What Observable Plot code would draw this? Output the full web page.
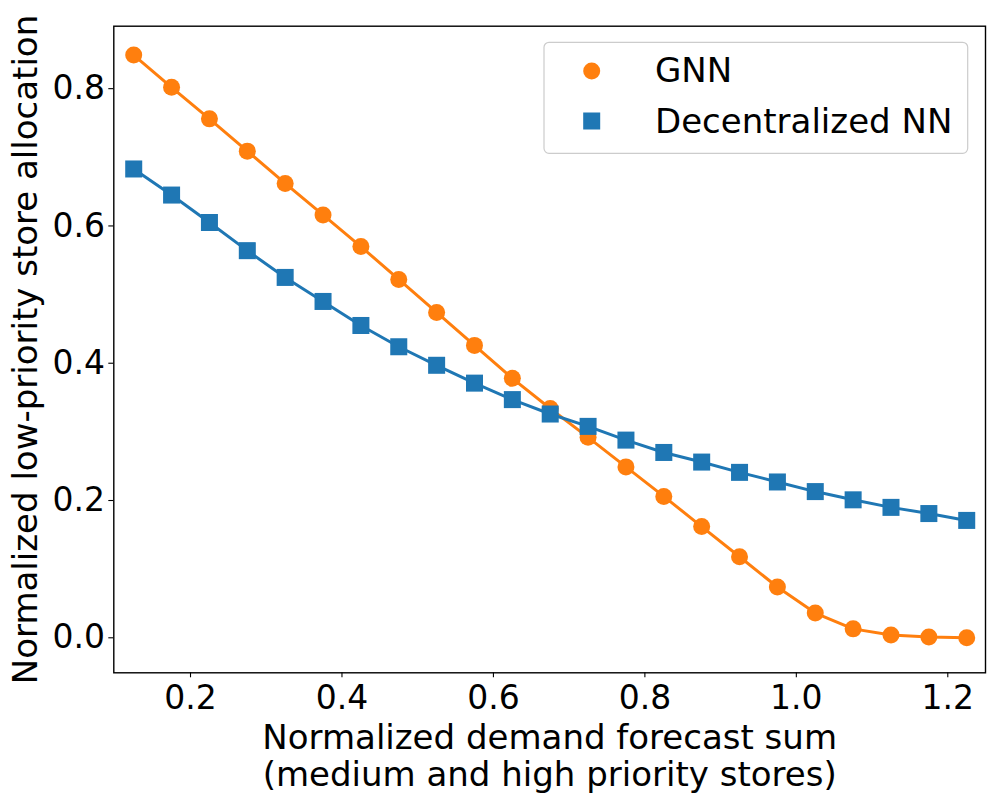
<!DOCTYPE html>
<html><head><meta charset="utf-8">
<script src="https://cdn.jsdelivr.net/npm/d3@7"></script>
<script src="https://cdn.jsdelivr.net/npm/@observablehq/plot@0.6"></script>
<style>body{margin:0;background:#fff;}</style>
</head><body><div id="chart"></div>
<script>
const xValues = [0.125, 0.175, 0.225, 0.275, 0.325, 0.375, 0.425, 0.475, 0.525, 0.575, 0.625, 0.675, 0.725, 0.775, 0.825, 0.875, 0.925, 0.975, 1.025, 1.075, 1.125, 1.175, 1.225];
const gnnValues = [0.849, 0.802, 0.756, 0.709, 0.662, 0.616, 0.570, 0.522, 0.474, 0.426, 0.378, 0.334, 0.292, 0.249, 0.206, 0.162, 0.118, 0.074, 0.036, 0.013, 0.004, 0.001, 0.000];
const dnnValues = [0.683, 0.645, 0.605, 0.564, 0.525, 0.490, 0.455, 0.424, 0.397, 0.371, 0.347, 0.326, 0.308, 0.288, 0.270, 0.256, 0.241, 0.227, 0.213, 0.201, 0.190, 0.181, 0.171];
const xTicks = [0.2, 0.4, 0.6, 0.8, 1.0, 1.2];
const yTicks = [0.0, 0.2, 0.4, 0.6, 0.8];
const seriesNames = ["GNN", "Decentralized NN"];
const seriesColors = ["#ff7f0e", "#1f77b4"];
const xLabel = "Normalized demand forecast sum\n(medium and high priority stores)";
const yLabel = "Normalized low-priority store allocation";

const gnnRows = xValues.map((x, i) => ({x, y: gnnValues[i]}));
const dnnRows = xValues.map((x, i) => ({x, y: dnnValues[i]}));

const FONT = "DejaVu Sans";
const chart = Plot.plot({
  width: 996, height: 804,
  marginLeft: 113.3, marginRight: 11, marginTop: 25.7, marginBottom: 131.7,
  x: {domain: [0.0987, 1.2498]},
  y: {domain: [-0.051, 0.891]},
  style: {fontFamily: FONT, fontSize: "33px", background: "white", color: "black"},
  marks: [
    Plot.axisX({ticks: xTicks, tickFormat: d3.format(".1f"), tickSize: 5, tickPadding: 7.6, fontSize: 33, label: null, strokeWidth: 1.1}),
    Plot.axisY({ticks: yTicks, tickFormat: d3.format(".1f"), tickSize: 5, tickPadding: 3.8, fontSize: 33, label: null, strokeWidth: 1.1}),
    Plot.line(gnnRows, {x: "x", y: "y", stroke: seriesColors[0], strokeWidth: 3}),
    Plot.dot(gnnRows, {x: "x", y: "y", r: 8.5, fill: seriesColors[0], symbol: "circle"}),
    Plot.line(dnnRows, {x: "x", y: "y", stroke: seriesColors[1], strokeWidth: 3}),
    Plot.dot(dnnRows, {x: "x", y: "y", r: 9.6, fill: seriesColors[1], symbol: "square"}),
    Plot.frame({stroke: "black", strokeWidth: 1.4}),
    Plot.text([xLabel], {frameAnchor: "bottom", dy: 50.3, lineAnchor: "top", textAnchor: "middle", fontSize: 34, lineHeight: 1.08, fill: "black"}),
    Plot.text([yLabel], {frameAnchor: "left", rotate: -90, dx: -77, lineAnchor: "bottom", textAnchor: "middle", fontSize: 34, fill: "black"})
  ]
});
document.getElementById("chart").appendChild(chart);

// legend (upper right, matplotlib style)
const svg = d3.select(chart);
const lg = svg.append("g").attr("font-family", FONT).attr("font-size", 34).attr("text-anchor", "start");
lg.append("rect").attr("x", 544).attr("y", 42.3).attr("width", 423.7).attr("height", 111)
  .attr("rx", 5).attr("fill", "white").attr("fill-opacity", 0.8).attr("stroke", "#cccccc").attr("stroke-width", 1.2);
lg.append("circle").attr("cx", 591.7).attr("cy", 71).attr("r", 8.5).attr("fill", seriesColors[0]);
lg.append("rect").attr("x", 591.7 - 8.5).attr("y", 121 - 8.5).attr("width", 17).attr("height", 17).attr("fill", seriesColors[1]);
lg.append("text").attr("x", 655).attr("y", 81.7).attr("text-anchor", "start").text(seriesNames[0]);
lg.append("text").attr("x", 655).attr("y", 133.3).attr("text-anchor", "start").text(seriesNames[1]);
</script>
</body></html>
